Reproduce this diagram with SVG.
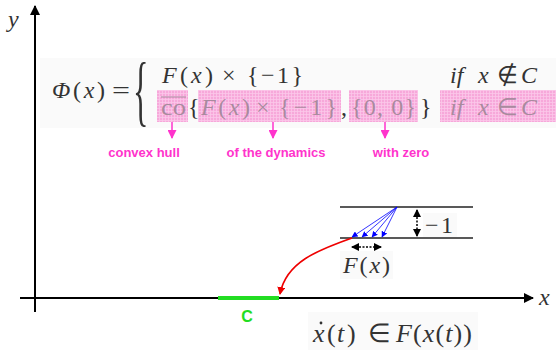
<svg xmlns="http://www.w3.org/2000/svg" width="556" height="350" viewBox="0 0 556 350">
<style>
.m{font-family:"Liberation Serif","Times New Roman",serif;fill:#333;font-size:24px}
.i{font-style:italic}
.f{fill:#a98a9e}
.lb{font-family:"Liberation Sans",Arial,sans-serif;font-weight:bold;font-size:13px;fill:#ff33cc;text-anchor:middle}
.ax{stroke:#000;stroke-width:2;fill:none}
.mg{stroke:#ff33cc;stroke-width:1.5;fill:none}
.bl{stroke:#0000ff;stroke-width:0.8;fill:none}
.hl{stroke:#222;stroke-width:1.3}
.pk{fill:url(#pk)}
.bg{fill:#fafafa}
</style>
<defs>
<pattern id="pk" width="3" height="3" patternUnits="userSpaceOnUse"><rect width="3" height="3" fill="#f7a8da"/><path d="M0,0.5H3M0.5,0V3" stroke="#fbc8ea" stroke-width="0.8"/></pattern>
<marker id="ak" markerWidth="10" markerHeight="10" refX="9" refY="5" orient="auto" markerUnits="userSpaceOnUse"><path d="M0,0L10,5L0,10z" fill="#000"/></marker>
<marker id="ak2" markerWidth="8" markerHeight="8" refX="7" refY="4" orient="auto-start-reverse" markerUnits="userSpaceOnUse"><path d="M0,0L8,4L0,8z" fill="#000"/></marker>
<marker id="am" markerWidth="9" markerHeight="9" refX="8" refY="4.5" orient="auto" markerUnits="userSpaceOnUse"><path d="M0,0L9,4.5L0,9z" fill="#ff33cc"/></marker>
<marker id="ab" markerWidth="6" markerHeight="6" refX="5.5" refY="3" orient="auto" markerUnits="userSpaceOnUse"><path d="M0,0L6,3L0,6z" fill="#0000ff"/></marker>
<marker id="ar" markerWidth="8" markerHeight="8" refX="7" refY="4" orient="auto" markerUnits="userSpaceOnUse"><path d="M0,0L8,4L0,8z" fill="#ee0000"/></marker>
</defs>
<rect width="556" height="350" fill="#fff"/>

<g id="axes">
<line class="ax" x1="35" y1="312" x2="35" y2="6" marker-end="url(#ak)"/>
<line class="ax" x1="20" y1="298" x2="533" y2="298" marker-end="url(#ak)"/>
<text class="m i" x="8" y="27" fill="#555">y</text>
<text class="m i" x="539" y="305" fill="#555">x</text>
</g>

<g id="formula-phi">
<rect class="bg" x="40" y="58" width="516" height="70"/>
<text class="m" y="98"><tspan x="52" textLength="53" lengthAdjust="spacing"><tspan class="i">Φ</tspan>(<tspan class="i">x</tspan>)</tspan><tspan x="112" textLength="18" lengthAdjust="spacingAndGlyphs">=</tspan></text>
<text class="m" transform="translate(133,117) scale(0.7,1.68)" style="font-size:46px">{</text>
<text class="m" y="83"><tspan x="162" textLength="51" lengthAdjust="spacing"><tspan class="i">F</tspan>(<tspan class="i">x</tspan>)</tspan><tspan x="222">×</tspan><tspan x="247" textLength="56" lengthAdjust="spacing">{−1}</tspan></text>
<text class="m i" y="83"><tspan x="450">if</tspan><tspan x="478">x</tspan><tspan x="497" font-style="normal">∉</tspan><tspan x="521">C</tspan></text>
<rect class="pk" x="157" y="90" width="31" height="32"/>
<rect class="pk" x="198" y="90" width="143" height="32"/>
<rect class="pk" x="349" y="90" width="69" height="32"/>
<rect class="pk" x="440" y="90" width="116" height="32"/>
<text class="m f" x="161" y="115" textLength="25" lengthAdjust="spacingAndGlyphs">co</text>
<line x1="161" y1="97" x2="186" y2="97" stroke="#a98a9e" stroke-width="1"/>
<text class="m" x="188" y="115">{</text>
<text class="m f" y="115"><tspan x="201" textLength="49" lengthAdjust="spacing"><tspan class="i">F</tspan>(<tspan class="i">x</tspan>)</tspan><tspan x="256">×</tspan><tspan x="279" textLength="58" lengthAdjust="spacing">{−1}</tspan></text>
<text class="m" x="341" y="115">,</text>
<text class="m f" x="351" y="115" textLength="65" lengthAdjust="spacing">{0, 0}</text>
<text class="m" x="420" y="115">}</text>
<text class="m f i" y="115"><tspan x="450">if</tspan><tspan x="478">x</tspan><tspan x="497" font-style="normal">∈</tspan><tspan x="521">C</tspan></text>
</g>

<g id="label-convex-hull"><text class="lb" x="144" y="157">convex hull</text></g>
<g id="label-dynamics"><text class="lb" x="276" y="157">of the dynamics</text></g>
<g id="label-zero"><text class="lb" x="401" y="157">with zero</text></g>

<g id="inset">
<line class="hl" x1="340" y1="207" x2="473" y2="207"/>
<line class="hl" x1="340" y1="238" x2="473" y2="238"/>
<rect class="bg" x="423" y="213" width="34" height="24"/>
<text class="m" x="425" y="233" fill="#555" textLength="28" lengthAdjust="spacing">−1</text>
<rect class="bg" x="340" y="251" width="53" height="28"/>
<text class="m" x="343" y="273" fill="#555" textLength="47" lengthAdjust="spacing"><tspan class="i">F</tspan>(<tspan class="i">x</tspan>)</text>
</g>

<g id="set-C">
<line x1="218" y1="298" x2="279" y2="298" stroke="#22dd22" stroke-width="4"/>
<text x="247" y="322" font-family="Liberation Sans,Arial,sans-serif" font-weight="bold" font-size="16" fill="#22dd22" text-anchor="middle">C</text>
</g>

<g id="formula-dyn">
<rect class="bg" x="308" y="312" width="170" height="38"/>
<text class="m" y="342" style="font-size:26px"><tspan x="313" class="i">x</tspan><tspan x="327">(</tspan><tspan x="337" class="i">t</tspan><tspan x="347">)</tspan><tspan x="368">∈</tspan><tspan x="396" textLength="76" lengthAdjust="spacing"><tspan class="i">F</tspan>(<tspan class="i">x</tspan>(<tspan class="i">t</tspan>))</tspan></text>
<circle cx="321" cy="323" r="1.4" fill="#333"/>
</g>

<g id="connectors">
<line class="mg" x1="172" y1="122" x2="172" y2="138" marker-end="url(#am)"/>
<line class="mg" x1="273" y1="122" x2="273" y2="138" marker-end="url(#am)"/>
<line class="mg" x1="385" y1="122" x2="385" y2="138" marker-end="url(#am)"/>
<line class="bl" x1="397" y1="207" x2="352" y2="237" marker-end="url(#ab)"/>
<line class="bl" x1="397" y1="207" x2="362" y2="237" marker-end="url(#ab)"/>
<line class="bl" x1="397" y1="207" x2="372" y2="237" marker-end="url(#ab)"/>
<line class="bl" x1="397" y1="207" x2="382" y2="237" marker-end="url(#ab)"/>
<line x1="417" y1="210" x2="417" y2="236" stroke="#000" stroke-width="1.5" stroke-dasharray="2,1.5" marker-start="url(#ak2)" marker-end="url(#ak2)"/>
<line x1="352" y1="247" x2="381" y2="247" stroke="#000" stroke-width="1.5" stroke-dasharray="2,1.5" marker-start="url(#ak2)" marker-end="url(#ak2)"/>
<path d="M352,238 C318,250 286,262 280,294" fill="none" stroke="#ee0000" stroke-width="1.6" marker-end="url(#ar)"/>
</g>
</svg>
